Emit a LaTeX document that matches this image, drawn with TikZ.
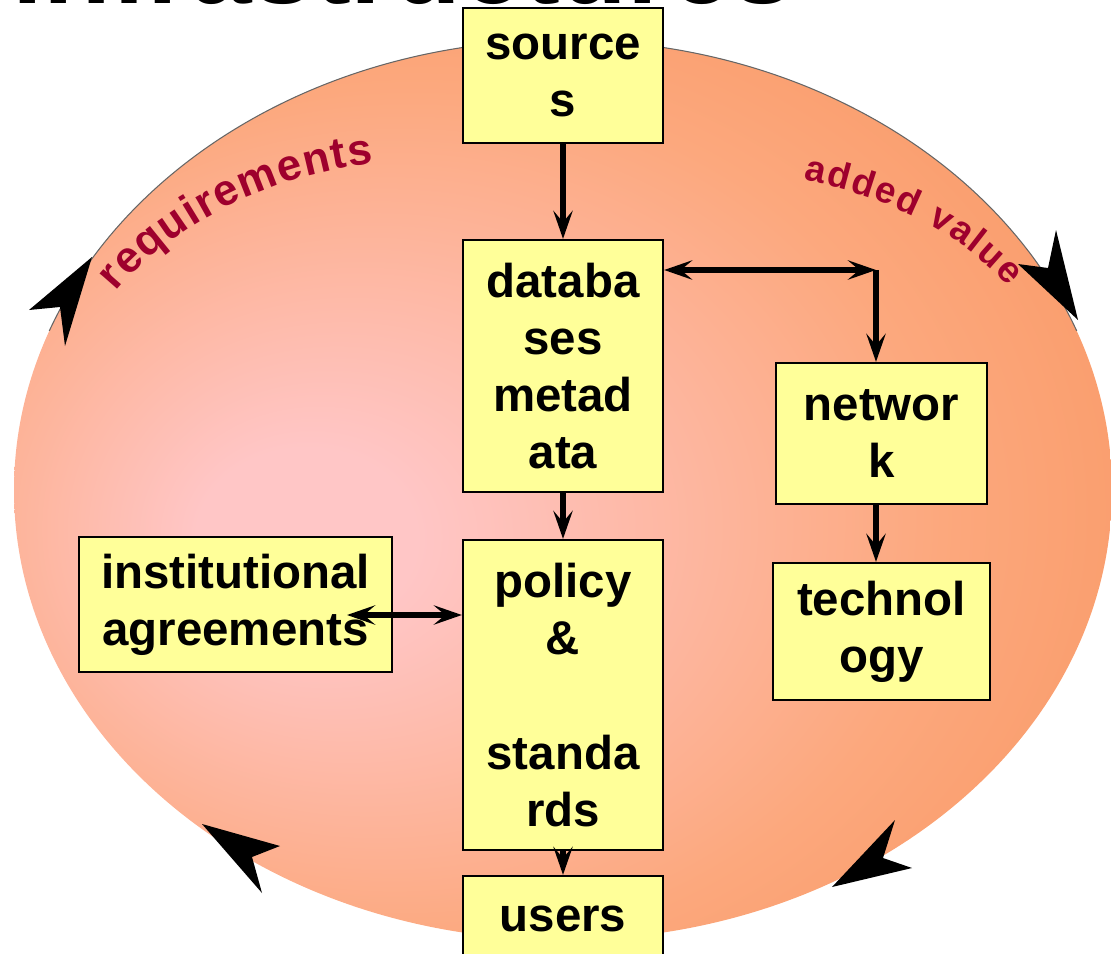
\documentclass[tikz,border=0pt]{standalone}
\usepackage{fontspec}
\setmainfont{Liberation Sans}
\usetikzlibrary{arrows.meta, decorations.text}

\definecolor{boxyellow}{RGB}{255,255,153}
\definecolor{ovalcentre}{RGB}{255,198,198}
\definecolor{ovalmid}{RGB}{252,168,125}
\definecolor{ovaledge}{RGB}{247,145,90}
\definecolor{loopred}{RGB}{158,0,45}
\pgfdeclareradialshading{ovalshade}{\pgfpoint{-13bp}{-3bp}}{color(0bp)=(ovalcentre); color(5bp)=(ovalcentre); color(24bp)=(ovalmid); color(40bp)=(ovaledge); color(50bp)=(ovaledge)}

\newcommand\boxfont{\fontsize{27}{32.5}\selectfont\bfseries}
\newcommand\loopfont{\fontsize{25}{25}\selectfont\bfseries}
\newcommand\valuefont{\fontsize{21}{21}\selectfont\bfseries}

\begin{document}
\begin{tikzpicture}[
            x = 0.02cm, y = -0.02cm, % one unit is one pixel, y runs down
            > = {Stealth[length=16pt, width=11pt, inset=6.5pt]}, % arrow head style
            flow/.style = {line width=3pt} % heavy connector lines
        ]

        \tikzstyle{box}=[
            draw = black,
            line width = 1.3pt,
            fill = boxyellow,
            align = center,
            inner sep = 0pt,
            font = \boxfont
        ]

        \useasboundingbox (0,0) rectangle (1111,953);
        \clip (0,0) rectangle (1111,953);

        % the oval behind everything
        \shade[shading=ovalshade] (563,490) ellipse [x radius=549, y radius=450];
        \begin{scope}
            \clip (0,0) rectangle (1111,330);
            \draw[black!60, line width=0.6pt] (563,490) ellipse [x radius=549, y radius=450];
        \end{scope}

        % title, cut off by the top edge
        \node[anchor=base east, font=\fontsize{63}{63}\selectfont\bfseries] (title) at (800,4) {infrastructures};

        % big arrow heads round the oval
        \fill (92,257) -- (29,310) -- (60,307) -- (65,346) -- cycle;
        \fill (1078,320) -- (1018,264) -- (1048,268) -- (1056,230) -- cycle;
        \fill (832,887) -- (895,820) -- (883,858) -- (912,868) -- cycle;
        \fill (202,824) -- (280,846) -- (252,857) -- (262,893) -- cycle;

        % curved labels
        \path[decorate, decoration={text along path, text align={fit to path},
            text color=loopred, text={|\loopfont|requirements}}]
            (116,292) .. controls (165,232) and (262,175) .. (374,164);
        \path[decorate, decoration={text along path, text align={fit to path},
            text color=loopred, text={|\valuefont|added value}}]
            (803,180) .. controls (868,193) and (952,222) .. (1008,287);

        \node[box, minimum width=4cm, minimum height=2.7cm] (sources) at (563,75.5) {source\\s};
        \node[box, minimum width=4cm, minimum height=5.04cm] (databases) at (563,366) {databa\\ses\\metad\\ata};
        \node[box, minimum width=4cm, minimum height=6.2cm] (policy) at (563,695) {policy\\\&\\~\\standa\\rds};
        \node[box, minimum width=4cm, minimum height=1.7cm] (users) at (563,918.5) {users};
        \node[box, minimum width=6.26cm, minimum height=2.7cm] (agreements) at (235.5,604.5) {institutional\\agreements};
        \node[box, minimum width=4.22cm, minimum height=2.82cm] (network) at (881.5,433.5) {networ\\k};
        \node[box, minimum width=4.34cm, minimum height=2.74cm] (technology) at (881.5,631.5) {technol\\ogy};

        \coordinate (corner) at (876,270);
        \coordinate (agreeend) at (347,615);

        \draw[flow, ->] (sources) -- (databases);
        \draw[flow, ->] (databases) -- (policy);
        \draw[flow, ->] (policy) -- (users);
        \draw[flow, <->] (databases.east |- corner) -- (corner);
        \draw[flow, ->] (corner) -- (corner |- network.north);
        \draw[flow, ->] (corner |- network.south) -- (corner |- technology.north);
        \draw[flow, <->] (agreeend) -- (agreeend -| policy.west);

  \end{tikzpicture}
\end{document}
